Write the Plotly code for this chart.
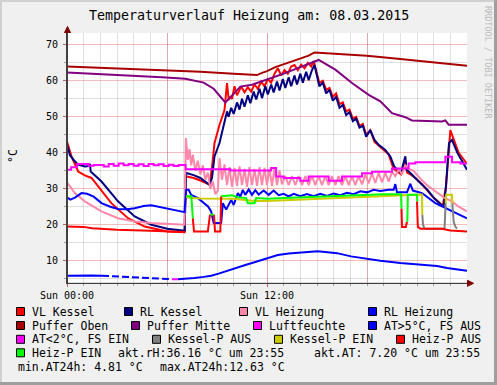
import plotly.graph_objects as go

# ---------------- data (hours since Sun 00:00, °C) ----------------
t_vl_kessel = [0, 0.27, 0.67, 1.07, 1.47, 1.87, 2.66, 3.66, 4.66, 6.02, 7.06, 7.12, 7.6, 8.0, 8.55, 8.7, 8.85, 9.15, 9.45, 9.6, 9.7, 9.8, 9.9, 10.05, 10.2, 10.45, 10.65, 10.85, 11.05, 11.25, 11.45, 11.65, 11.85, 12.05, 12.25, 12.45, 12.65, 12.85, 13.05, 13.25, 13.45, 13.65, 13.85, 14.05, 14.25, 14.45, 14.65, 14.8, 14.94, 15.14, 15.35, 15.55, 15.75, 15.95, 16.15, 16.35, 16.55, 16.75, 16.95, 17.15, 17.35, 17.55, 17.75, 17.95, 18.2, 18.45, 18.7, 19.0, 19.3, 19.6, 19.8, 20.05, 20.3, 20.4, 20.6, 20.9, 21.3, 21.9, 22.55, 22.75, 23.0, 23.5, 24.0]
v_vl_kessel = [43.1, 39.0, 34.8, 33.7, 33.0, 30.6, 26.0, 21.8, 19.5, 18.1, 17.9, 33.5, 33.0, 32.3, 31.2, 36.0, 42.7, 47.8, 51.9, 59.4, 54.7, 55.5, 55.0, 58.5, 56.0, 58.4, 56.8, 58.2, 57.0, 59.0, 57.8, 59.8, 58.5, 60.5, 59.5, 62.0, 63.5, 61.5, 63.0, 62.0, 64.0, 64.4, 63.0, 64.5, 63.5, 65.0, 64.0, 65.5, 63.1, 59.4, 60.0, 57.5, 58.0, 55.5, 56.5, 53.5, 54.0, 51.5, 52.0, 49.5, 50.0, 47.5, 48.0, 45.0, 46.3, 43.0, 42.0, 40.8, 39.5, 35.5, 34.8, 34.0, 37.5, 34.5, 34.0, 33.0, 31.3, 28.0, 25.3, 31.0, 46.3, 40.0, 36.9]

t_rl_kessel = [0, 0.17, 0.4, 0.67, 1.07, 1.3, 1.38, 1.42, 2.07, 3.06, 4.06, 5.06, 6.02, 7.06, 7.14, 7.6, 8.0, 8.55, 8.7, 8.85, 9.15, 9.45, 9.6, 9.7, 9.85, 10.0, 10.2, 10.35, 10.5, 10.65, 10.85, 11.0, 11.2, 11.35, 11.55, 11.7, 11.9, 12.05, 12.25, 12.4, 12.6, 12.75, 12.95, 13.1, 13.3, 13.45, 13.65, 13.8, 14.0, 14.15, 14.35, 14.5, 14.7, 14.85, 15.0, 15.14, 15.35, 15.55, 15.75, 15.95, 16.15, 16.35, 16.55, 16.75, 16.95, 17.15, 17.35, 17.55, 17.75, 17.95, 18.2, 18.45, 18.7, 19.1, 19.4, 19.63, 19.85, 20.03, 20.3, 20.38, 20.6, 20.93, 21.2, 21.63, 22.02, 22.43, 22.6, 22.72, 22.92, 23.1, 23.43, 23.72, 24.0]
v_rl_kessel = [42.4, 39.4, 38.0, 36.7, 36.2, 36.3, 36.9, 34.8, 32.0, 26.5, 22.3, 20.0, 18.9, 18.3, 34.4, 33.8, 33.0, 31.1, 33.0, 39.0, 42.7, 49.2, 51.5, 50.0, 52.5, 50.8, 54.0, 52.0, 55.0, 52.8, 56.0, 53.8, 57.0, 54.8, 57.8, 55.2, 58.5, 56.2, 59.0, 56.8, 59.8, 57.3, 60.5, 58.0, 61.0, 58.5, 61.5, 59.0, 62.0, 59.5, 62.5, 60.2, 63.0, 64.4, 61.5, 58.5, 59.5, 56.5, 57.5, 54.5, 55.5, 52.5, 53.3, 50.5, 51.3, 48.8, 49.5, 47.0, 47.5, 44.5, 46.3, 43.6, 42.2, 40.8, 39.0, 36.2, 35.3, 34.4, 39.0, 35.3, 34.4, 33.0, 31.6, 29.7, 27.4, 25.6, 25.1, 29.7, 42.7, 43.6, 39.9, 37.6, 35.3]

t_vl_heizung = [0, 0.47, 1.07, 2.07, 3.06, 4.06, 5.06, 6.02, 7.05, 7.13, 7.25, 7.35, 7.45, 7.55, 7.7, 7.85, 8.0, 8.15, 8.3, 8.45, 8.6, 8.75, 8.9, 9.05, 9.15, 9.3, 9.45, 9.6, 9.75, 9.9, 10.05, 10.2, 10.35, 10.5, 10.65, 10.8, 10.95, 11.1, 11.25, 11.4, 11.55, 11.7, 11.85, 12.0, 12.15, 12.3, 12.45, 12.6, 12.75, 12.9, 13.1, 13.3, 13.5, 13.7, 13.9, 14.1, 14.3, 14.5, 14.7, 14.9, 15.1, 15.3, 15.5, 15.7, 15.9, 16.1, 16.3, 16.5, 16.7, 16.9, 17.1, 17.3, 17.5, 17.7, 17.9, 18.1, 18.3, 18.5, 18.7, 18.9, 19.1, 19.3, 19.5, 19.7, 19.9, 20.1, 20.3, 20.5, 20.8, 21.2, 21.6, 22.1, 22.6, 23.1, 23.5, 24.0]
v_vl_heizung = [31.8, 28.8, 26.5, 23.7, 21.8, 20.9, 20.5, 20.2, 20.0, 44.1, 38.0, 41.0, 36.5, 39.5, 35.0, 37.8, 34.0, 36.5, 32.5, 34.5, 30.0, 32.0, 28.5, 29.5, 38.5, 32.5, 36.8, 31.0, 36.0, 30.5, 35.8, 30.8, 36.2, 31.0, 35.5, 30.5, 36.0, 31.0, 35.5, 30.8, 36.0, 31.0, 35.8, 31.0, 35.5, 30.8, 35.6, 31.0, 35.0, 31.2, 33.5, 31.0, 33.5, 31.0, 33.5, 31.0, 33.5, 31.0, 33.5, 31.0, 33.5, 31.0, 33.5, 31.0, 33.5, 31.0, 33.5, 31.0, 33.5, 31.0, 33.5, 31.0, 33.5, 31.2, 34.0, 31.5, 34.3, 31.6, 34.4, 31.8, 34.4, 32.0, 34.6, 33.5, 35.5, 34.0, 36.5, 35.5, 35.0, 32.8, 31.0, 29.3, 27.6, 26.5, 25.0, 23.7]

t_rl_heizung = [0, 0.2, 0.5, 0.87, 1.2, 1.6, 2.07, 2.6, 3.06, 3.6, 4.06, 4.6, 5.06, 5.5, 6.02, 6.6, 7.05, 7.15, 7.3, 7.45, 7.86, 8.46, 8.65, 8.8, 9.25, 9.35, 9.55, 9.85, 10.0, 10.25, 10.4, 10.55, 10.7, 10.9, 11.1, 11.3, 11.5, 11.8, 12.1, 12.4, 12.7, 13.0, 13.3, 13.6, 14.0, 14.4, 14.8, 15.2, 15.6, 16.0, 16.4, 16.8, 17.2, 17.6, 18.0, 18.4, 18.8, 19.3, 19.6, 19.7, 19.8, 20.4, 20.6, 20.75, 21.3, 22.1, 23.1, 24.0]
v_rl_heizung = [27.6, 27.0, 27.6, 28.8, 28.6, 27.8, 26.0, 25.0, 24.4, 24.3, 24.6, 25.2, 25.4, 25.0, 24.4, 24.0, 23.5, 29.7, 29.7, 28.3, 27.4, 25.1, 23.7, 20.5, 20.5, 26.0, 24.2, 26.9, 25.5, 28.8, 27.8, 29.7, 28.3, 29.8, 28.3, 29.6, 28.4, 29.5, 28.3, 29.5, 28.2, 28.6, 27.9, 28.6, 27.9, 28.5, 27.9, 28.6, 28.0, 28.7, 28.2, 28.9, 28.5, 29.3, 29.0, 29.7, 29.4, 29.7, 29.7, 31.3, 29.0, 29.0, 31.4, 29.5, 28.8, 26.0, 23.7, 21.8]

t_puffer_oben = [0, 3, 5.7, 8, 10, 11.4, 11.7, 12.0, 12.5, 13.0, 13.5, 14.0, 14.5, 14.85, 16.0, 18.0, 20.0, 22.0, 24.0]
v_puffer_oben = [64.0, 63.5, 63.0, 62.5, 62.0, 61.6, 62.2, 62.7, 63.8, 64.6, 65.5, 66.3, 67.0, 67.9, 67.6, 67.0, 66.1, 65.1, 64.2]

t_puffer_mitte = [0, 3, 5.7, 7.1, 8.2, 8.8, 9.2, 9.5, 9.85, 10.4, 11.1, 12.0, 13.0, 14.0, 15.1, 16.1, 17.1, 18.1, 18.8, 19.5, 20.3, 20.7, 22.5, 22.7, 22.9, 24.0]
v_puffer_mitte = [62.3, 61.7, 61.0, 60.6, 59.5, 57.8, 55.5, 54.0, 55.6, 58.4, 58.9, 60.3, 62.0, 63.8, 65.8, 63.1, 59.4, 56.1, 54.3, 51.0, 49.9, 49.0, 48.7, 49.0, 47.8, 47.8]

t_luftfeuchte = [0, 0.25, 0.6, 1.3, 1.6, 2.2, 2.5, 2.8, 3.1, 3.4, 3.7, 4.0, 4.3, 4.6, 4.9, 5.2, 5.5, 5.8, 6.1, 6.4, 6.7, 7.12, 9.8, 12.25, 12.55, 13.0, 14.0, 14.5, 15.7, 16.5, 17.7, 18.3, 19.5, 20.5, 20.9, 22.7, 23.1, 23.6, 24.0]
v_luftfeuchte = [35.3, 36.0, 36.9, 36.4, 36.6, 36.2, 36.9, 36.4, 37.0, 36.5, 36.9, 36.4, 36.8, 36.3, 36.9, 36.5, 36.8, 36.3, 36.7, 36.3, 36.6, 35.4, 35.1, 35.8, 33.4, 33.0, 32.2, 33.4, 32.2, 33.4, 34.3, 34.7, 35.6, 37.0, 37.4, 38.9, 37.4, 37.0, 37.0]

# outside temperature (AT): solid / sampled-dashed / below-threshold parts
t_at_a = [0, 0.5, 1.0, 1.5, 2.1]
v_at_a = [5.85, 5.8, 5.8, 5.9, 5.85]
t_at_b = [2.1, 3.0, 4.0, 5.0, 6.0, 6.3]
v_at_b = [5.85, 5.6, 5.4, 5.15, 4.95, 4.85]
t_at_low = [6.3, 6.65]
v_at_low = [4.85, 4.81]
t_at_c = [6.65, 7.2, 7.65, 8.2, 8.65, 9.1, 9.6, 10.1, 10.7, 11.2, 11.65, 12.0, 12.65, 13.3, 14.04, 14.6, 15.04, 15.5, 16.2, 17.04, 18.0, 18.8, 20.0, 21.0, 21.6, 22.2, 22.8, 23.4, 24.0]
v_at_c = [4.81, 4.95, 5.2, 5.5, 5.8, 6.4, 7.2, 7.8, 8.8, 9.5, 10.2, 10.8, 11.6, 12.0, 12.3, 12.4, 12.63, 12.4, 12.1, 11.2, 10.5, 10.0, 9.35, 9.0, 8.8, 8.5, 8.0, 7.6, 7.2]

t_kessel_p_aus = [21.32, 21.36, 21.45, 22.65, 22.72, None, 23.12, 23.2, 23.3, 23.4]
v_kessel_p_aus = [22.8, 20.0, 18.9, 18.9, 26.0, None, 26.0, 20.8, 19.5, 18.9]

t_kessel_p_ein = [7.14, 7.3, 8.0, 9.0, 9.3, 10.0, 10.8, 11.3, 12.0, 13.0, 14.0, 15.0, 16.0, 17.0, 18.0, 19.0, 20.0, 21.3, 21.32, None, 22.72, 22.75, 23.1, 23.12]
v_kessel_p_ein = [27.9, 27.5, 27.3, 27.3, 27.3, 27.2, 26.8, 26.6, 26.6, 26.8, 27.0, 27.3, 27.5, 27.7, 27.9, 28.1, 28.3, 28.4, 22.8, None, 26.0, 28.3, 28.3, 26.0]

t_heiz_p_aus = [0, 1.0, 1.5, 3.0, 5.0, 7.08, None, 7.55, 7.62, 8.45, 8.58, None, 8.82, 8.88, 9.2, 9.25, None, 20.07, 20.1, 20.33, 20.4, None, 21.0, 21.05, 21.2, 22.5, 23.0, 24.0]
v_heiz_p_aus = [19.5, 19.4, 19.0, 18.6, 18.3, 18.0, None, 21.8, 18.1, 18.1, 22.8, None, 22.8, 18.1, 18.1, 27.9, None, 24.5, 19.4, 19.4, 20.8, None, 26.5, 19.4, 18.9, 18.9, 18.4, 18.1]

t_heiz_p_ein = [7.14, 7.46, 7.55, None, 8.6, 8.8, None, 9.25, 9.9, 10.3, 10.75, 10.85, 11.25, 11.35, 12.0, 13.0, 14.0, 15.0, 16.0, 17.0, 18.0, 19.0, 20.05, 20.07, None, 20.42, 20.45, 21.0, 21.02]
v_heiz_p_ein = [27.9, 27.9, 21.8, None, 22.8, 22.8, None, 27.9, 28.2, 27.6, 27.4, 26.0, 26.0, 27.4, 27.2, 27.4, 27.6, 27.9, 28.1, 28.2, 28.4, 28.5, 28.5, 24.5, None, 20.8, 28.3, 28.3, 26.5]

x_tick_vals = [0, 6, 12, 18]
x_tick_text = ["Sun 00:00", "", "Sun 12:00", ""]
y_tick_vals = [10, 20, 30, 40, 50, 60, 70]

title_text = "Temperaturverlauf Heizung am: 08.03.2015"
y_label = "°C"
watermark = "RRDTOOL / TOBI OETIKER"

legend_rows = [
    [("VL Kessel", "#FF0000"), ("RL Kessel", "#000080"), ("VL Heizung", "#FF88AA"), ("RL Heizung", "#0000FF")],
    [("Puffer Oben", "#A80000"), ("Puffer Mitte", "#800080"), ("Luftfeuchte", "#FF00FF"), ("AT>5°C, FS AUS", "#0000FF")],
    [("AT<2°C, FS EIN", "#FF00FF"), ("Kessel-P AUS", "#808080"), ("Kessel-P EIN", "#CCCC00"), ("Heiz-P AUS", "#FF0000")],
]
legend_last = ("Heiz-P EIN", "#00FF00")
akt_rh = "akt.rH:36.16 °C um 23:55"
akt_at = "akt.AT: 7.20 °C um 23:55"
min_at = "min.AT24h: 4.81 °C"
max_at = "max.AT24h:12.63 °C"

# ---------------- layout helpers (pixel -> paper) ----------------
W, H = 497, 385
L, R, T, B = 67, 30, 33, 102
PW, PH = W - L - R, H - T - B


def px(x):
    return (x - L) / PW


def py(y):
    return (H - B - y) / PH


MONO = "DejaVu Sans Mono"
fig = go.Figure()


def line(t, v, color, width=2, dash=None, shape="linear"):
    fig.add_trace(go.Scatter(x=t, y=v, mode="lines", connectgaps=False,
                             line=dict(color=color, width=width, dash=dash, shape=shape),
                             hoverinfo="skip"))


line(t_vl_kessel, v_vl_kessel, "#FF0000")
line(t_rl_kessel, v_rl_kessel, "#000080")
line(t_vl_heizung, v_vl_heizung, "#FF88AA")
line(t_rl_heizung, v_rl_heizung, "#0000FF")
line(t_puffer_oben, v_puffer_oben, "#A80000")
line(t_puffer_mitte, v_puffer_mitte, "#800080")
line(t_luftfeuchte, v_luftfeuchte, "#FF00FF", shape="hv")
line(t_at_a, v_at_a, "#0000FF")
line(t_at_b, v_at_b, "#0000FF", dash="7px,3px")
line(t_at_c, v_at_c, "#0000FF")
line(t_at_low, v_at_low, "#FF00FF")
line(t_kessel_p_aus, v_kessel_p_aus, "#808080")
line(t_kessel_p_ein, v_kessel_p_ein, "#CCCC00")
line(t_heiz_p_aus, v_heiz_p_aus, "#FF0000")
line(t_heiz_p_ein, v_heiz_p_ein, "#00FF00")

major_grid = "rgba(222,79,79,0.38)"
minor_grid = "rgba(143,143,143,0.28)"

fig.update_xaxes(range=[0, 24], tickmode="array", tickvals=x_tick_vals, ticktext=x_tick_text,
                 showgrid=True, gridcolor=major_grid, gridwidth=1,
                 ticks="outside", ticklen=3, tickcolor="#C06060", tickwidth=1,
                 showline=True, linecolor="#404040", linewidth=1, zeroline=False,
                 tickfont=dict(family=MONO, size=10, color="#000000"),
                 minor=dict(tickmode="array", tickvals=list(range(0, 25)), showgrid=True,
                            gridcolor=minor_grid, ticks="outside", ticklen=2, tickcolor="#A0A0A0"),
                 automargin=False, fixedrange=True)
fig.update_yaxes(range=[3.8, 73.3], tickmode="array", tickvals=y_tick_vals,
                 showgrid=True, gridcolor=major_grid, gridwidth=1,
                 ticks="outside", ticklen=3, tickcolor="#C06060", tickwidth=1,
                 showline=True, linecolor="#404040", linewidth=1, zeroline=False,
                 tickfont=dict(family=MONO, size=10, color="#000000"),
                 ticklabelstandoff=3,
                 minor=dict(tickmode="array", tickvals=[5, 15, 25, 35, 45, 55, 65], showgrid=True,
                            gridcolor=minor_grid, ticks="outside", ticklen=2, tickcolor="#A0A0A0"),
                 automargin=False, fixedrange=True)

shapes = []
# 3D frame
shapes.append(dict(type="rect", xref="paper", yref="paper", x0=px(0), x1=px(2), y0=py(H), y1=py(0),
                   fillcolor="#D0D0D0", line=dict(width=0), layer="below"))
shapes.append(dict(type="rect", xref="paper", yref="paper", x0=px(0), x1=px(W), y0=py(2), y1=py(0),
                   fillcolor="#D0D0D0", line=dict(width=0), layer="below"))
shapes.append(dict(type="rect", xref="paper", yref="paper", x0=px(W - 3), x1=px(W), y0=py(H), y1=py(0),
                   fillcolor="#9E9E9E", line=dict(width=0), layer="below"))
shapes.append(dict(type="rect", xref="paper", yref="paper", x0=px(0), x1=px(W), y0=py(H), y1=py(H - 3),
                   fillcolor="#9E9E9E", line=dict(width=0), layer="below"))
# axis arrows
ax_x, ax_y = 67.5, 283.3
shapes.append(dict(type="line", xref="paper", yref="paper", x0=px(ax_x), x1=px(ax_x), y0=py(ax_y), y1=py(29),
                   line=dict(color="#404040", width=1)))
shapes.append(dict(type="path", xref="paper", yref="paper",
                   path=f"M {px(ax_x-3)},{py(32.5)} L {px(ax_x)},{py(26.5)} L {px(ax_x+3)},{py(32.5)} Z",
                   fillcolor="#800000", line=dict(color="#800000", width=1)))
shapes.append(dict(type="line", xref="paper", yref="paper", x0=px(ax_x), x1=px(470), y0=py(ax_y), y1=py(ax_y),
                   line=dict(color="#404040", width=1)))
shapes.append(dict(type="path", xref="paper", yref="paper",
                   path=f"M {px(467.5)},{py(ax_y-3)} L {px(473.5)},{py(ax_y)} L {px(467.5)},{py(ax_y+3)} Z",
                   fillcolor="#800000", line=dict(color="#800000", width=1)))

annotations = []


def text(x, y, s, size=11.5, color="#000000", xanchor="left", angle=0):
    annotations.append(dict(x=px(x), y=py(y), xref="paper", yref="paper", text=s, showarrow=False,
                            xanchor=xanchor, yanchor="middle", textangle=angle,
                            font=dict(family=MONO, size=size, color=color)))


def swatch(x, y, color):
    shapes.append(dict(type="rect", xref="paper", yref="paper", x0=px(x), x1=px(x + 8), y0=py(y + 4),
                       y1=py(y - 4), fillcolor=color, line=dict(color="#000000", width=1)))


text(249, 16, title_text, size=13.3, xanchor="center")
text(13, 156, y_label, size=11.5, xanchor="center", angle=-90)
text(488, 62, watermark, size=8.5, color="#BBBBBB", xanchor="center", angle=90)

row_y = [311.5, 325.5, 339.3, 352.8, 367.2]
col_x = [
    [30, 138, 253, 382],
    [30, 145, 267, 382],
    [30, 166, 288, 410],
]
for r, items in enumerate(legend_rows):
    for c, (name, color) in enumerate(items):
        tx = col_x[r][c]
        swatch(tx - 13.5, row_y[r], color)
        text(tx, row_y[r], name)
swatch(30 - 13.5, row_y[3], legend_last[1])
text(30, row_y[3], legend_last[0])
text(116, row_y[3], akt_rh)
text(312.3, row_y[3], akt_at)
text(16, row_y[4], min_at)
text(158.3, row_y[4], max_at)

fig.update_layout(width=W, height=H, margin=dict(l=L, r=R, t=T, b=B, pad=0),
                  paper_bgcolor="#F0F0F0", plot_bgcolor="#FFFFFF", showlegend=False,
                  font=dict(family=MONO, size=10, color="#000000"),
                  shapes=shapes, annotations=annotations)

fig.write_html("out.html", config={"displayModeBar": False, "staticPlot": True},
               post_script="document.body.style.margin='0px';document.body.style.overflow='hidden';")
